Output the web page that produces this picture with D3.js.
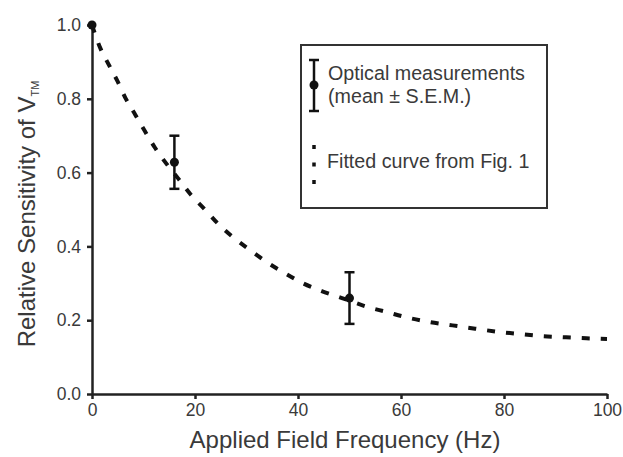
<!DOCTYPE html>
<html>
<head>
<meta charset="utf-8">
<script src="https://cdn.jsdelivr.net/npm/d3@7"></script>
<style>
  body { margin: 0; background: #fff; }
  svg { display: block; font-family: "Liberation Sans", Arial, sans-serif; }
</style>
</head>
<body>
<div id="chart"></div>
<script>
// tick values
var xTicks = [0, 20, 40, 60, 80, 100];
var yTicks = [0, 0.2, 0.4, 0.6, 0.8, 1.0];

// optical measurements (mean +/- SEM)
var measHz = [0, 16, 50];
var measMean = [1.0, 0.628, 0.26];
var measSem = [0, 0.072, 0.07];

// fitted curve from Fig. 1
var curveHz = [0, 1.5, 3.2, 4.9, 6.5, 8.4, 10.2, 12.2, 14.4, 16.8, 19.2, 21.8, 24.5, 27.4, 30.7, 34, 37.5, 41, 44.6, 49, 53, 57.3, 61, 65.6, 70, 74.4, 78.6, 82.8, 87.4, 91.5, 96, 100];
var curveVal = [1.0, 0.941, 0.894, 0.849, 0.802, 0.757, 0.714, 0.668, 0.625, 0.583, 0.540, 0.502, 0.461, 0.425, 0.39, 0.357, 0.327, 0.30, 0.279, 0.258, 0.238, 0.222, 0.208, 0.195, 0.186, 0.177, 0.169, 0.163, 0.157, 0.154, 0.151, 0.149];

var width = 623, height = 457;

var svg = d3.select("#chart")
    .append("svg")
    .attr("width", width)
    .attr("height", height);

var x = d3.scaleLinear().domain([0, 100]).range([92, 607]);
var y = d3.scaleLinear().domain([0, 1]).range([394, 25]);

var axisColor = "#222";
var textColor = "#3a3a3a";

// x axis
var xAxis = svg.append("g")
    .attr("transform", "translate(0,394)")
    .call(d3.axisBottom(x).tickValues(xTicks).tickSize(5).tickSizeOuter(0).tickFormat(d3.format("d")));
xAxis.select(".domain").attr("stroke", axisColor).attr("stroke-width", 2.5);
xAxis.selectAll(".tick line").attr("stroke", axisColor).attr("stroke-width", 2.5);
xAxis.selectAll(".tick text")
    .attr("fill", textColor)
    .attr("font-size", "17.5px")
    .attr("font-family", "Liberation Sans, Arial, sans-serif")
    .attr("y", 10);

// y axis
var yAxis = svg.append("g")
    .attr("transform", "translate(92,0)")
    .call(d3.axisLeft(y).tickValues(yTicks).tickSize(5).tickSizeOuter(0).tickFormat(d3.format(".1f")));
yAxis.select(".domain").attr("stroke", axisColor).attr("stroke-width", 2.5);
yAxis.selectAll(".tick line").attr("stroke", axisColor).attr("stroke-width", 2.5);
yAxis.selectAll(".tick text")
    .attr("fill", textColor)
    .attr("font-size", "17.5px")
    .attr("font-family", "Liberation Sans, Arial, sans-serif")
    .attr("x", -11);

// axis titles
svg.append("text")
    .attr("x", 345)
    .attr("y", 448)
    .attr("text-anchor", "middle")
    .attr("fill", textColor)
    .attr("font-size", "24px")
    .text("Applied Field Frequency (Hz)");

var yTitle = svg.append("text")
    .attr("transform", "translate(35,214) rotate(-90)")
    .attr("text-anchor", "middle")
    .attr("fill", textColor)
    .attr("font-size", "24px");
yTitle.append("tspan").text("Relative Sensitivity of V");
yTitle.append("tspan").attr("font-size", "11px").attr("dy", 4).text("TM");

// fitted curve
var curveData = curveHz.map(function(d, i) { return { hz: d, v: curveVal[i] }; });
var line = d3.line()
    .x(function(d) { return x(d.hz); })
    .y(function(d) { return y(d.v); })
    .curve(d3.curveMonotoneX);

svg.append("path")
    .datum(curveData)
    .attr("d", line)
    .attr("fill", "none")
    .attr("stroke", "#111")
    .attr("stroke-width", 4)
    .attr("stroke-dasharray", "8,11");

// measurements with error bars
var meas = measHz.map(function(d, i) { return { hz: d, m: measMean[i], s: measSem[i] }; });
var cap = 5;
var pts = svg.selectAll(".meas")
    .data(meas)
    .enter().append("g")
    .attr("class", "meas");

pts.filter(function(d) { return d.s > 0; }).each(function(d) {
    var g = d3.select(this);
    var cx = x(d.hz);
    g.append("line")
        .attr("x1", cx).attr("x2", cx)
        .attr("y1", y(d.m + d.s)).attr("y2", y(d.m - d.s))
        .attr("stroke", "#111").attr("stroke-width", 2.5);
    [d.m + d.s, d.m - d.s].forEach(function(v) {
        g.append("line")
            .attr("x1", cx - cap).attr("x2", cx + cap)
            .attr("y1", y(v)).attr("y2", y(v))
            .attr("stroke", "#111").attr("stroke-width", 2.5);
    });
});

pts.append("circle")
    .attr("cx", function(d) { return x(d.hz); })
    .attr("cy", function(d) { return y(d.m); })
    .attr("r", 4.5)
    .attr("fill", "#111");

// legend
var legend = svg.append("g");
legend.append("rect")
    .attr("x", 301).attr("y", 45)
    .attr("width", 246).attr("height", 163)
    .attr("fill", "#fff")
    .attr("stroke", "#333")
    .attr("stroke-width", 2);

legend.append("line")
    .attr("x1", 314).attr("x2", 314).attr("y1", 60).attr("y2", 111)
    .attr("stroke", "#111").attr("stroke-width", 2.5);
[60, 111].forEach(function(v) {
    legend.append("line")
        .attr("x1", 309).attr("x2", 319).attr("y1", v).attr("y2", v)
        .attr("stroke", "#111").attr("stroke-width", 2.5);
});
legend.append("circle").attr("cx", 314).attr("cy", 85).attr("r", 4.5).attr("fill", "#111");

legend.append("text")
    .attr("x", 328).attr("y", 80)
    .attr("fill", textColor).attr("font-size", "19.7px")
    .text("Optical measurements");
legend.append("text")
    .attr("x", 328).attr("y", 103)
    .attr("fill", textColor).attr("font-size", "19.7px")
    .text("(mean \u00b1 S.E.M.)");

legend.append("line")
    .attr("x1", 314).attr("x2", 314).attr("y1", 145).attr("y2", 186)
    .attr("stroke", "#111").attr("stroke-width", 3.5)
    .attr("stroke-dasharray", "4,13.5");

legend.append("text")
    .attr("x", 327).attr("y", 168)
    .attr("fill", textColor).attr("font-size", "19.7px")
    .text("Fitted curve from Fig. 1");
</script>
</body>
</html>
